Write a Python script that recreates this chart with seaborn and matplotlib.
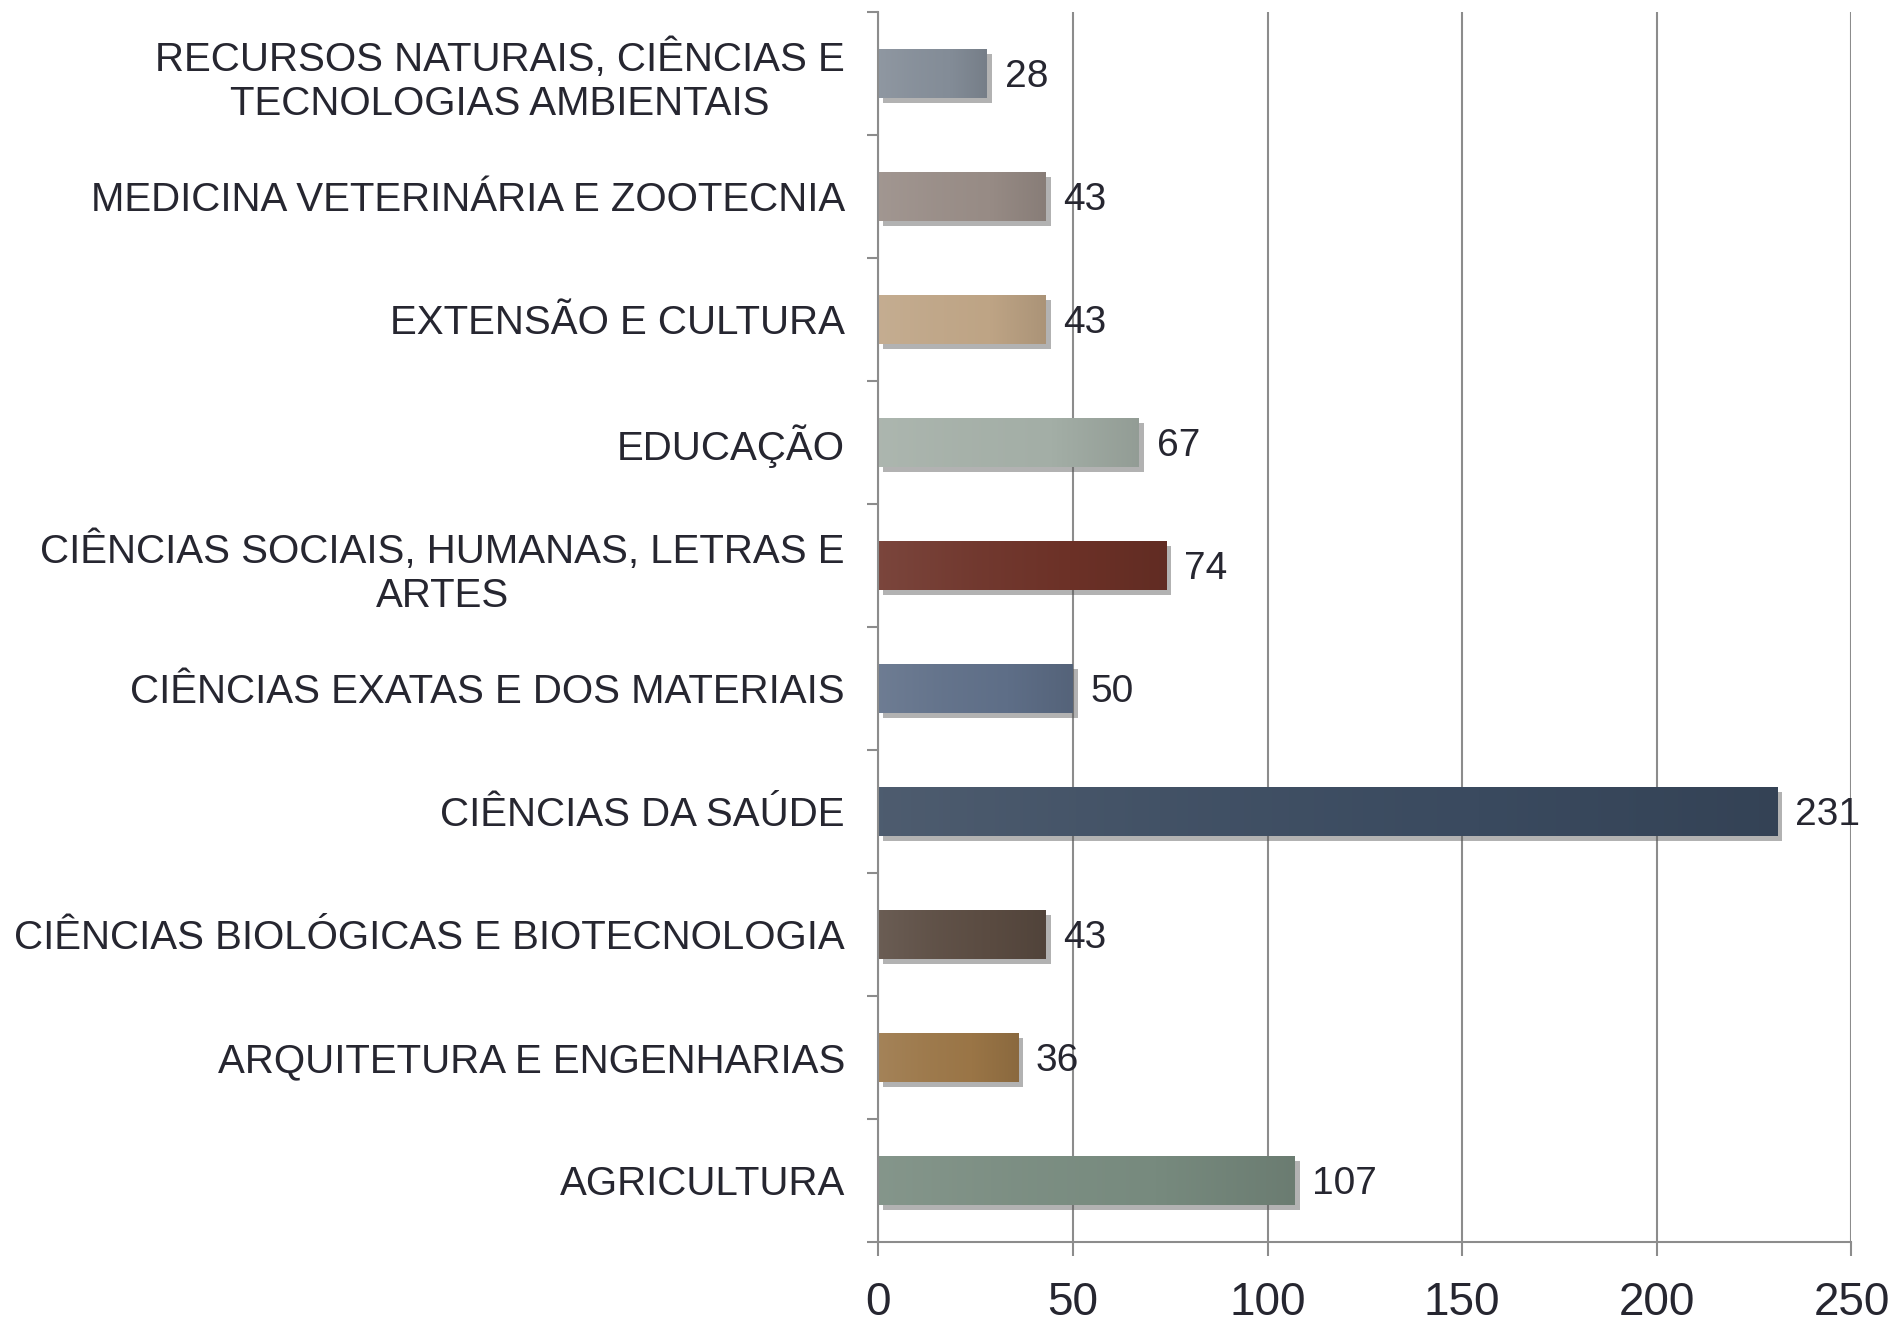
import matplotlib
matplotlib.use('Agg')
import matplotlib.pyplot as plt
import matplotlib.patheffects as pe
from matplotlib.colors import LinearSegmentedColormap, to_rgb
from matplotlib.ticker import FixedLocator
import numpy as np
import pandas as pd
import seaborn as sns

# dados (de cima para baixo)
areas = ['RECURSOS NATURAIS, CIÊNCIAS E\nTECNOLOGIAS AMBIENTAIS',
         'MEDICINA VETERINÁRIA E ZOOTECNIA',
         'EXTENSÃO E CULTURA',
         'EDUCAÇÃO',
         'CIÊNCIAS SOCIAIS, HUMANAS, LETRAS E\nARTES',
         'CIÊNCIAS EXATAS E DOS MATERIAIS',
         'CIÊNCIAS DA SAÚDE',
         'CIÊNCIAS BIOLÓGICAS E BIOTECNOLOGIA',
         'ARQUITETURA E ENGENHARIAS',
         'AGRICULTURA']
totais = [28, 43, 43, 67, 74, 50, 231, 43, 36, 107]
cores = ['#838c97', '#978b85', '#bea485', '#a3aea6', '#6c3127',
         '#5e6e87', '#3a4a5f', '#5a4b41', '#9a7546', '#778a7e']
xticks = [0, 50, 100, 150, 200, 250]

df = pd.DataFrame({'area': areas, 'total': totais})

sns.set_theme(style='white')
plt.rcParams['font.family'] = ['Liberation Sans', 'DejaVu Sans']
cinza = '#8c8c8c'
texto = '#262630'

fig = plt.figure(figsize=(18.97, 13.21), dpi=100)
ax = fig.add_axes([0.463, 0.06, 0.513, 0.931])

sns.barplot(data=df, x='total', y='area', hue='area', palette=cores,
            legend=False, width=0.4, orient='h', ax=ax, saturation=1)

sombra = [pe.SimplePatchShadow(offset=(3.5, -3.5), shadow_rgbFace='#555555', alpha=0.45), pe.Normal()]

def ajusta(c, f):
    c = np.array(to_rgb(c))
    if f > 0:
        return tuple(c + (1 - c) * f)
    return tuple(c * (1 + f))

grad = np.linspace(0, 1, 256).reshape(1, -1)
for p, c in zip(ax.patches, cores):
    p.set_path_effects(sombra)
    p.set_edgecolor('none')
    x0, y0, w, h = p.get_x(), p.get_y(), p.get_width(), p.get_height()
    cmap = LinearSegmentedColormap.from_list('g', [ajusta(c, 0.10), ajusta(c, 0.04), c, ajusta(c, -0.10)])
    im = ax.imshow(grad, extent=[x0, x0 + w, y0 + h, y0], aspect='auto', cmap=cmap,
                   zorder=p.get_zorder() + 0.1, interpolation='bilinear')
    im.set_clip_path(p)
    ax.text(x0 + w + 4.5, y0 + h / 2, str(int(w)), va='center_baseline', ha='left',
            fontsize=28, color=texto)

ax.set_xlim(0, 250)
ax.set_ylim(9.5, -0.5)
ax.set_aspect('auto')
ax.set_xticks(xticks)
ax.set_xlabel('')
ax.set_ylabel('')

ax.grid(axis='x', color=cinza, linewidth=1.5)
ax.set_axisbelow(True)
for s in ['top', 'right']:
    ax.spines[s].set_visible(False)
for s in ['left', 'bottom']:
    ax.spines[s].set_color(cinza)
    ax.spines[s].set_linewidth(1.5)

ax.tick_params(axis='x', length=10, width=1.5, color=cinza, pad=18,
               labelsize=33, labelcolor=texto, direction='out', bottom=True)
ax.tick_params(axis='y', which='major', length=0, pad=24, labelsize=29, labelcolor=texto)
ax.yaxis.set_minor_locator(FixedLocator(np.arange(-0.5, 10, 1)))
ax.tick_params(axis='y', which='minor', length=8, width=1.5, color=cinza, left=True, direction='out')
for lbl in ax.get_yticklabels():
    lbl.set_multialignment('center')
    lbl.set_linespacing(1.2)

plt.savefig('out.png', dpi=100)
